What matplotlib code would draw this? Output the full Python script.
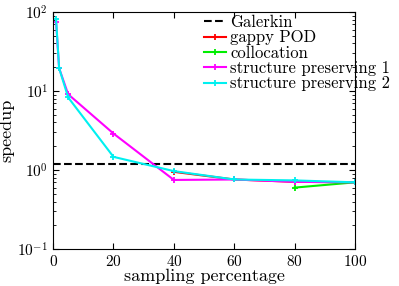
import matplotlib
matplotlib.use("Agg")
import matplotlib.pyplot as plt
from matplotlib.ticker import LogLocator, NullFormatter

plt.rcParams['font.family'] = 'cmr10'
plt.rcParams['mathtext.fontset'] = 'cm'
plt.rcParams['axes.formatter.use_mathtext'] = True
plt.rcParams['axes.unicode_minus'] = False

# sampling percentage vs speedup
galerkin = 1.2

x_gappy = [40, 60, 80, 100]
y_gappy = [0.95, 0.76, 0.71, 0.70]

x_colloc = [80, 100]
y_colloc = [0.60, 0.70]

x_sp1 = [1, 2, 5, 20, 40, 60, 80, 100]
y_sp1 = [75, 19.5, 9.1, 2.9, 0.75, 0.76, 0.71, 0.70]

x_sp2 = [1, 2, 5, 20, 40, 60, 80, 100]
y_sp2 = [81, 19.5, 8.3, 1.47, 0.97, 0.76, 0.74, 0.70]

fig = plt.figure(figsize=(3.99, 2.86), dpi=100)
ax = fig.add_axes([0.133, 0.129, 0.757, 0.829])

ax.axhline(galerkin, color='k', ls='--', lw=1.5, label='Galerkin')
mk = dict(marker='+', ms=4, mew=1.3, lw=1.5)
ax.plot(x_gappy, y_gappy, color='#ff0000', label='gappy POD', **mk)
ax.plot(x_colloc, y_colloc, color='#00ee00', label='collocation', **mk)
ax.plot(x_sp1, y_sp1, color='#ff00ff', label='structure preserving 1', **mk)
ax.plot(x_sp2, y_sp2, color='#00f0f0', label='structure preserving 2', **mk)

ax.set_yscale('log')
ax.set_xlim(0, 100)
ax.set_ylim(0.1, 100)
ax.set_xticks([0, 20, 40, 60, 80, 100])
ax.yaxis.set_minor_locator(LogLocator(base=10, subs=range(2, 10)))
ax.yaxis.set_minor_formatter(NullFormatter())
ax.tick_params(which='both', direction='in', top=True, right=True, labelsize=11)
ax.tick_params(which='major', length=4)
ax.tick_params(which='minor', length=2)

ax.set_xlabel('sampling percentage', fontsize=13, labelpad=0)
ax.set_ylabel('speedup', fontsize=13, labelpad=2)

ax.legend(loc='upper left', bbox_to_anchor=(0.495, 0.995), frameon=False,
          fontsize=12, handlelength=1.3, handletextpad=0.25,
          labelspacing=0.0, borderpad=0.1, borderaxespad=0)

fig.savefig('out.png', dpi=100)
